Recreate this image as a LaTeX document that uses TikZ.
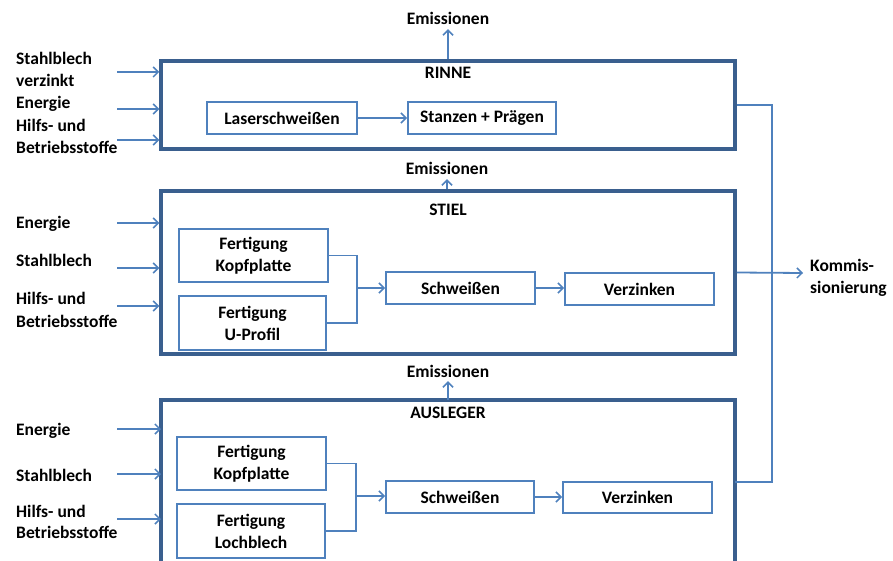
\documentclass[tikz,border=0pt]{standalone}
\usepackage{fontspec}
\setmainfont{Carlito}
\usetikzlibrary{arrows.meta,calc}
\definecolor{outerc}{HTML}{3A5F8E}
\definecolor{innerc}{HTML}{4F81BD}
\begin{document}
\begin{tikzpicture}[x=1pt,y=-1pt,
  font=\fontsize{17.5}{22}\selectfont\bfseries,
  outerbox/.style={draw=outerc,line width=3.5pt,inner sep=0pt},
  procbox/.style={draw=innerc,line width=2pt,inner sep=0pt,align=center},
  flow/.style={draw=innerc,line width=1.8pt,-{Straight Barb[length=5pt,width=10pt,line width=1.5pt]}},
  conn/.style={draw=innerc,line width=1.8pt},
  lbl/.style={inner sep=0pt,text height=12pt,text depth=4pt,yshift=-2pt},
  mlbl/.style={inner sep=0pt,align=left,anchor=west}]
\useasboundingbox (0,0) rectangle (893,561);

% ---------- RINNE ----------
\node[outerbox,minimum width=574pt,minimum height=88pt] (rinne) at (448,105) {};
\node[lbl] (rinnet) at (448,73) {RINNE};
\node[procbox,minimum width=150pt,minimum height=32pt] (laser) at (282,118) {Laserschweißen};
\node[procbox,minimum width=148pt,minimum height=32pt] (stanz) at (482,118) {Stanzen + Prägen};
\draw[flow] (laser) -- (stanz);
\node[lbl] (em1) at (448,19) {Emissionen};
\draw[flow] (rinne.north -| em1) -- (em1.south);

\node[lbl,anchor=west] (r1a) at (16,59) {Stahlblech};
\node[lbl,anchor=west] (r1b) at (16,81) {verzinkt};
\node[lbl,anchor=west] (r2) at (16,103) {Energie};
\node[lbl,anchor=west] (r3a) at (16,126) {Hilfs- und};
\node[lbl,anchor=west] (r3b) at (16,148) {Betriebsstoffe};
\coordinate (ri1) at (117,72);
\coordinate (ri2) at (117,109);
\coordinate (ri3) at (117,140);
\draw[flow] (ri1) -- (ri1 -| rinne.west);
\draw[flow] (ri2) -- (ri2 -| rinne.west);
\draw[flow] (ri3) -- (ri3 -| rinne.west);

% ---------- STIEL ----------
\node[outerbox,minimum width=574pt,minimum height=163pt] (stiel) at (448,272.5) {};
\node[lbl] (stielt) at (448,209) {STIEL};
\node[procbox,minimum width=149pt,minimum height=53pt] (kopf1) at (253.5,255.5) {Fertigung\\Kopfplatte};
\node[procbox,minimum width=147pt,minimum height=54pt] (uprof) at (252.5,323) {Fertigung\\U-Profil};
\node[procbox,minimum width=149pt,minimum height=32pt] (schw1) at (460.5,288) {Schweißen};
\node[procbox,minimum width=149pt,minimum height=32pt] (verz1) at (639.5,289) {Verzinken};
\coordinate (j1) at (357,288);
\draw[conn] (kopf1.east) -| (j1);
\draw[conn] (uprof.east) -| (j1);
\draw[flow] (j1) -- (j1 -| schw1.west);
\draw[flow] (schw1.east) -- (schw1.east -| verz1.west);
\node[lbl] (em2) at (447,169) {Emissionen};
\draw[flow] (stiel.north -| em2) -- (em2.south);

\node[lbl,anchor=west] (s1) at (16,223) {Energie};
\node[lbl,anchor=west] (s2) at (16,260) {Stahlblech};
\node[lbl,anchor=west] (s3a) at (16,298) {Hilfs- und};
\node[lbl,anchor=west] (s3b) at (16,321) {Betriebsstoffe};
\coordinate (si1) at (117,223);
\coordinate (si2) at (117,268);
\coordinate (si3) at (117,306);
\draw[flow] (si1) -- (si1 -| stiel.west);
\draw[flow] (si2) -- (si2 -| stiel.west);
\draw[flow] (si3) -- (si3 -| stiel.west);

% ---------- AUSLEGER ----------
\coordinate (abl) at (161,566);
\coordinate (atl) at (161,400);
\coordinate (atr) at (735,400);
\coordinate (abr) at (735,566);
\draw[draw=outerc,line width=3.5pt] (abl) -- (atl) -- (atr) -- (abr);
\node[lbl] (ausl) at (448,412) {AUSLEGER};
\node[procbox,minimum width=149pt,minimum height=53pt] (kopf2) at (251.5,463.5) {Fertigung\\Kopfplatte};
\node[procbox,minimum width=148pt,minimum height=54pt] (loch) at (251,531) {Fertigung\\Lochblech};
\node[procbox,minimum width=148pt,minimum height=32pt] (schw2) at (460,497) {Schweißen};
\node[procbox,minimum width=149pt,minimum height=31pt] (verz2) at (637.5,497.5) {Verzinken};
\coordinate (j2) at (356,496);
\draw[conn] (kopf2.east) -| (j2);
\draw[conn] (loch.east) -| (j2);
\draw[flow] (j2) -- (j2 -| schw2.west);
\draw[flow] (schw2.east) -- (schw2.east -| verz2.west);
\node[lbl] (em3) at (448,371) {Emissionen};
\draw[flow] (atl -| em3) -- (em3.south);

\node[lbl,anchor=west] (a1) at (16,429) {Energie};
\node[lbl,anchor=west] (a2) at (16,475) {Stahlblech};
\node[lbl,anchor=west] (a3a) at (16,511) {Hilfs- und};
\node[lbl,anchor=west] (a3b) at (16,532) {Betriebsstoffe};
\coordinate (ai1) at (117,429);
\coordinate (ai2) at (117,474);
\coordinate (ai3) at (117,519);
\draw[flow] (ai1) -- (ai1 -| atl);
\draw[flow] (ai2) -- (ai2 -| atl);
\draw[flow] (ai3) -- (ai3 -| atl);

% ---------- output ----------
\coordinate (bus) at (772,0);
\coordinate (ausout) at (735,482);
\draw[conn] (rinne.east) -- (rinne.east -| bus) -- (ausout -| bus) -- (ausout);
\coordinate (komm) at (803,273);
\draw[flow] (stiel.east) -- (komm);
\node[mlbl] (kommt) at (810,278) {Kommis-\\sionierung};
\end{tikzpicture}
\end{document}
